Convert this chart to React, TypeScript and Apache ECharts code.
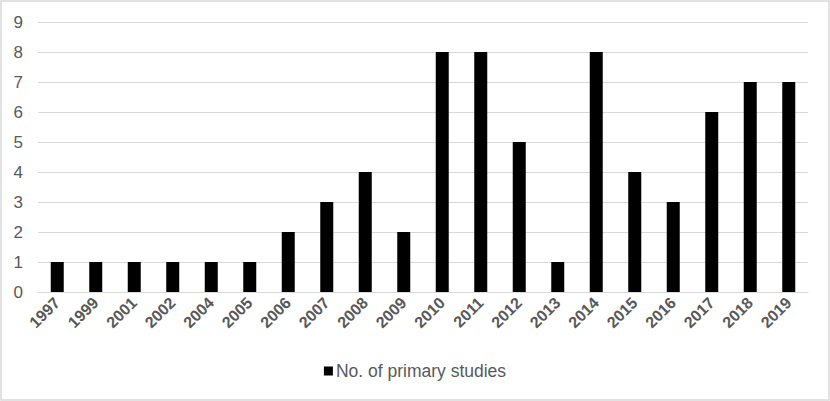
import React, { useEffect, useRef } from "react";
import * as echarts from "echarts";

const years = ["1997","1999","2001","2002","2004","2005","2006","2007","2008","2009","2010","2011","2012","2013","2014","2015","2016","2017","2018","2019"];
const studies = [1,1,1,1,1,1,2,3,4,2,8,8,5,1,8,4,3,6,7,7];
const seriesName = "No. of primary studies";

export default function App() {
  const ref = useRef<HTMLDivElement>(null);
  useEffect(() => {
    if (!ref.current) return;
    const chart = echarts.init(ref.current, null, { renderer: "svg" });
    chart.setOption({
      animation: false,
      backgroundColor: "#ffffff",
      textStyle: { fontFamily: "Liberation Sans, Arial, sans-serif" },
      graphic: [
        { type: "rect", shape: { x: 1, y: 1, width: 828, height: 399 }, style: { fill: "none", stroke: "#d9d9d9", lineWidth: 1.5 }, silent: true }
      ],
      grid: { left: 38, right: 22, top: 22, bottom: 109, containLabel: false },
      legend: {
        data: [seriesName],
        bottom: 16,
        left: "center",
        icon: "rect",
        itemWidth: 9,
        itemHeight: 9,
        itemGap: 10,
        textStyle: { color: "#595959", fontSize: 17.5, fontFamily: "Liberation Sans, Arial, sans-serif", padding: [0, 0, 0, -2] },
      },
      xAxis: {
        type: "category",
        data: years,
        axisLine: { show: true, lineStyle: { color: "#d9d9d9", width: 1 } },
        axisTick: { show: false },
        axisLabel: { rotate: 45, color: "#595959", fontSize: 16, fontWeight: "bold", margin: 8, interval: 0, fontFamily: "Liberation Sans, Arial, sans-serif" },
      },
      yAxis: {
        type: "value",
        min: 0,
        max: 9,
        interval: 1,
        axisLine: { show: false },
        axisTick: { show: false },
        splitLine: { lineStyle: { color: "#d9d9d9", width: 1 } },
        axisLabel: { color: "#595959", fontSize: 17, margin: 15, fontFamily: "Liberation Sans, Arial, sans-serif" },
      },
      series: [
        {
          name: seriesName,
          type: "bar",
          data: studies,
          barWidth: 13,
          itemStyle: { color: "#000000" },
        },
      ],
    });
    return () => chart.dispose();
  }, []);
  return <div ref={ref} style={{ position: "fixed", left: 0, top: 0, width: 830, height: 401 }} />;
}
